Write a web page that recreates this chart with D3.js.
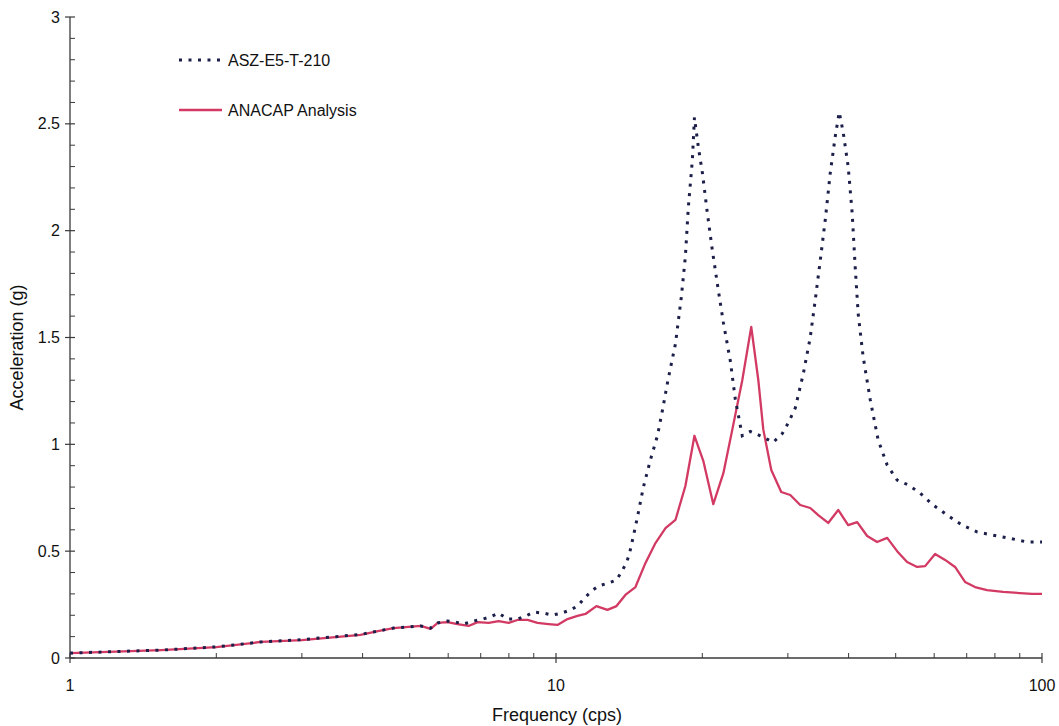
<!DOCTYPE html>
<html>
<head>
<meta charset="utf-8">
<script src="https://cdn.jsdelivr.net/npm/d3@7"></script>
<style>
  html, body { margin: 0; padding: 0; background: #fff; }
  svg { display: block; font-family: "Liberation Sans", Arial, sans-serif; }
</style>
</head>
<body>
<svg id="chart" width="1059" height="726"></svg>
<script>
// ---- data ----
const seriesNames = ["ASZ-E5-T-210", "ANACAP Analysis"];

const testFreq = [1, 1.54, 2.0, 2.47, 3.0, 3.96, 4.30, 4.63, 5.27, 5.52, 5.71, 5.98, 6.22, 6.45, 6.77, 7.06, 7.33, 7.62, 7.95, 8.33, 8.66, 8.99, 9.43, 9.84, 10.26, 10.71, 11.07, 11.44, 11.83, 12.23, 12.82, 13.32, 13.63, 13.96, 14.16, 14.43, 14.71, 15.13, 15.64, 16.17, 16.56, 17.03, 17.61, 18.11, 18.46, 18.72, 19.08, 19.27, 19.63, 20.01, 20.49, 20.97, 21.58, 22.10, 22.84, 23.39, 24.17, 25.11, 26.32, 28.0, 29.21, 30.05, 31.07, 32.27, 33.35, 34.15, 34.97, 35.81, 36.67, 37.54, 38.26, 38.99, 39.92, 40.69, 41.27, 41.86, 42.85, 44.31, 46.01, 48.02, 50.34, 53.04, 56.14, 59.68, 63.79, 68.47, 73.5, 79.3, 85.96, 93.15, 100];
const testAcc = [0.023, 0.037, 0.052, 0.075, 0.086, 0.11, 0.126, 0.14, 0.15, 0.14, 0.164, 0.173, 0.168, 0.159, 0.173, 0.182, 0.192, 0.21, 0.182, 0.182, 0.196, 0.215, 0.21, 0.201, 0.21, 0.225, 0.243, 0.28, 0.313, 0.337, 0.351, 0.365, 0.402, 0.445, 0.487, 0.571, 0.66, 0.8, 0.927, 1.04, 1.16, 1.31, 1.47, 1.69, 1.88, 2.11, 2.33, 2.53, 2.39, 2.27, 2.08, 1.91, 1.72, 1.57, 1.39, 1.21, 1.04, 1.06, 1.04, 1.01, 1.05, 1.10, 1.17, 1.33, 1.5, 1.675, 1.86, 2.05, 2.27, 2.44, 2.555, 2.46, 2.3, 2.08, 1.83, 1.61, 1.41, 1.21, 1.02, 0.903, 0.833, 0.81, 0.772, 0.716, 0.669, 0.622, 0.59, 0.575, 0.56, 0.543, 0.543];

const anaFreq = [1, 1.54, 2.0, 2.47, 3.0, 3.96, 4.30, 4.63, 5.27, 5.52, 5.71, 5.98, 6.27, 6.61, 6.90, 7.27, 7.62, 7.99, 8.33, 8.74, 9.16, 9.65, 10.07, 10.56, 11.07, 11.50, 12.11, 12.76, 13.32, 13.89, 14.57, 15.28, 16.02, 16.80, 17.61, 18.46, 19.27, 20.11, 21.07, 22.10, 23.06, 24.17, 25.22, 26.08, 26.70, 27.73, 29.07, 30.34, 31.81, 33.35, 34.64, 36.32, 38.08, 39.92, 41.66, 43.68, 45.79, 48.02, 50.34, 52.78, 55.34, 57.48, 60.26, 63.18, 66.24, 69.44, 72.81, 77.08, 83.14, 90.1, 95.4, 100];
const anaAcc = [0.023, 0.037, 0.051, 0.075, 0.084, 0.108, 0.126, 0.14, 0.15, 0.136, 0.164, 0.168, 0.159, 0.15, 0.168, 0.164, 0.173, 0.164, 0.178, 0.178, 0.164, 0.159, 0.155, 0.182, 0.197, 0.206, 0.243, 0.225, 0.243, 0.295, 0.332, 0.445, 0.538, 0.608, 0.646, 0.805, 1.04, 0.92, 0.72, 0.865, 1.07, 1.3, 1.55, 1.3, 1.07, 0.88, 0.777, 0.763, 0.716, 0.702, 0.669, 0.632, 0.693, 0.622, 0.636, 0.571, 0.543, 0.562, 0.5, 0.449, 0.426, 0.43, 0.487, 0.459, 0.426, 0.356, 0.332, 0.318, 0.309, 0.304, 0.3, 0.3];

const yTickValues = [0, 0.5, 1, 1.5, 2, 2.5, 3];
const yTickLabels = ["0", "0.5", "1", "1.5", "2", "2.5", "3"];
const xMajorTicks = [1, 10, 100];
const xTickLabels = ["1", "10", "100"];
const xTitle = "Frequency (cps)";
const yTitle = "Acceleration (g)";

// ---- drawing ----
const svg = d3.select("#chart");
const padL = 70, padR = 1042, padT = 17, padB = 658;
const axisColor = "#3a3a3a";
const testColor = "#1c1f4a";
const anaColor = "#d23a63";

const x = d3.scaleLog().domain([1, 100]).range([padL, padR]);
const y = d3.scaleLinear().domain([0, 3]).range([padB, padT]);

// Y axis: major ticks crossing, minor ticks inside
const yAxisG = svg.append("g").attr("transform", `translate(${padL},0)`);
yAxisG.append("line").attr("x1", 0).attr("x2", 0).attr("y1", y(0)).attr("y2", y(3))
  .attr("stroke", axisColor).attr("stroke-width", 1.3);
const yMinor = d3.range(0, 31).map(i => i / 10).filter(v => Math.round(v * 10) % 5 !== 0);
yAxisG.selectAll("line.minor").data(yMinor).join("line").attr("class", "minor")
  .attr("x1", 0).attr("x2", 5).attr("y1", d => y(d)).attr("y2", d => y(d))
  .attr("stroke", axisColor).attr("stroke-width", 1);
yAxisG.selectAll("line.major").data(yTickValues).join("line").attr("class", "major")
  .attr("x1", -5).attr("x2", 5).attr("y1", d => y(d)).attr("y2", d => y(d))
  .attr("stroke", axisColor).attr("stroke-width", 1.2);
yAxisG.selectAll("text").data(yTickValues).join("text")
  .attr("x", -10).attr("y", d => y(d)).attr("dy", "0.35em")
  .attr("text-anchor", "end").attr("font-size", 16).attr("fill", "#111")
  .text((d, i) => yTickLabels[i]);

// X axis
const xAxisG = svg.append("g").attr("transform", `translate(0,${padB})`);
xAxisG.append("line").attr("x1", x(1)).attr("x2", x(100)).attr("y1", 0).attr("y2", 0)
  .attr("stroke", axisColor).attr("stroke-width", 1.5);
const xMinor = [];
[1, 10].forEach(dec => { for (let k = 2; k <= 9; k++) xMinor.push(k * dec); });
xAxisG.selectAll("line.minor").data(xMinor).join("line").attr("class", "minor")
  .attr("x1", d => x(d)).attr("x2", d => x(d)).attr("y1", 0).attr("y2", -5)
  .attr("stroke", axisColor).attr("stroke-width", 1);
xAxisG.selectAll("line.major").data(xMajorTicks).join("line").attr("class", "major")
  .attr("x1", d => x(d)).attr("x2", d => x(d)).attr("y1", -5).attr("y2", 5)
  .attr("stroke", axisColor).attr("stroke-width", 1.2);
xAxisG.selectAll("text").data(xMajorTicks).join("text")
  .attr("x", d => x(d)).attr("y", 33)
  .attr("text-anchor", "middle").attr("font-size", 16).attr("fill", "#111")
  .text((d, i) => xTickLabels[i]);

// Titles
svg.append("text").attr("x", (padL + padR) / 2 + 1).attr("y", 721)
  .attr("text-anchor", "middle").attr("font-size", 18).attr("fill", "#111").text(xTitle);
svg.append("text").attr("transform", `translate(23,${(padT + padB) / 2 + 10}) rotate(-90)`)
  .attr("text-anchor", "middle").attr("font-size", 18).attr("fill", "#111").text(yTitle);

// Lines
const line = d3.line().x(d => x(d[0])).y(d => y(d[1]));
svg.append("path").datum(anaFreq.map((f, i) => [f, anaAcc[i]]))
  .attr("d", line).attr("fill", "none").attr("stroke", anaColor).attr("stroke-width", 2.3)
  .attr("stroke-linejoin", "round");
svg.append("path").datum(testFreq.map((f, i) => [f, testAcc[i]]))
  .attr("d", line).attr("fill", "none").attr("stroke", testColor).attr("stroke-width", 3)
  .attr("stroke-dasharray", "3,6.5");

// Legend
const lg = svg.append("g");
lg.append("line").attr("x1", 179).attr("x2", 221).attr("y1", 60).attr("y2", 60)
  .attr("stroke", testColor).attr("stroke-width", 3).attr("stroke-dasharray", "3,6.5");
lg.append("text").attr("x", 228).attr("y", 60).attr("dy", "0.35em").attr("font-size", 16)
  .attr("fill", "#111").text(seriesNames[0]);
lg.append("line").attr("x1", 179).attr("x2", 222).attr("y1", 110).attr("y2", 110)
  .attr("stroke", anaColor).attr("stroke-width", 2.3);
lg.append("text").attr("x", 228).attr("y", 110).attr("dy", "0.35em").attr("font-size", 16)
  .attr("fill", "#111").text(seriesNames[1]);
</script>
</body>
</html>
